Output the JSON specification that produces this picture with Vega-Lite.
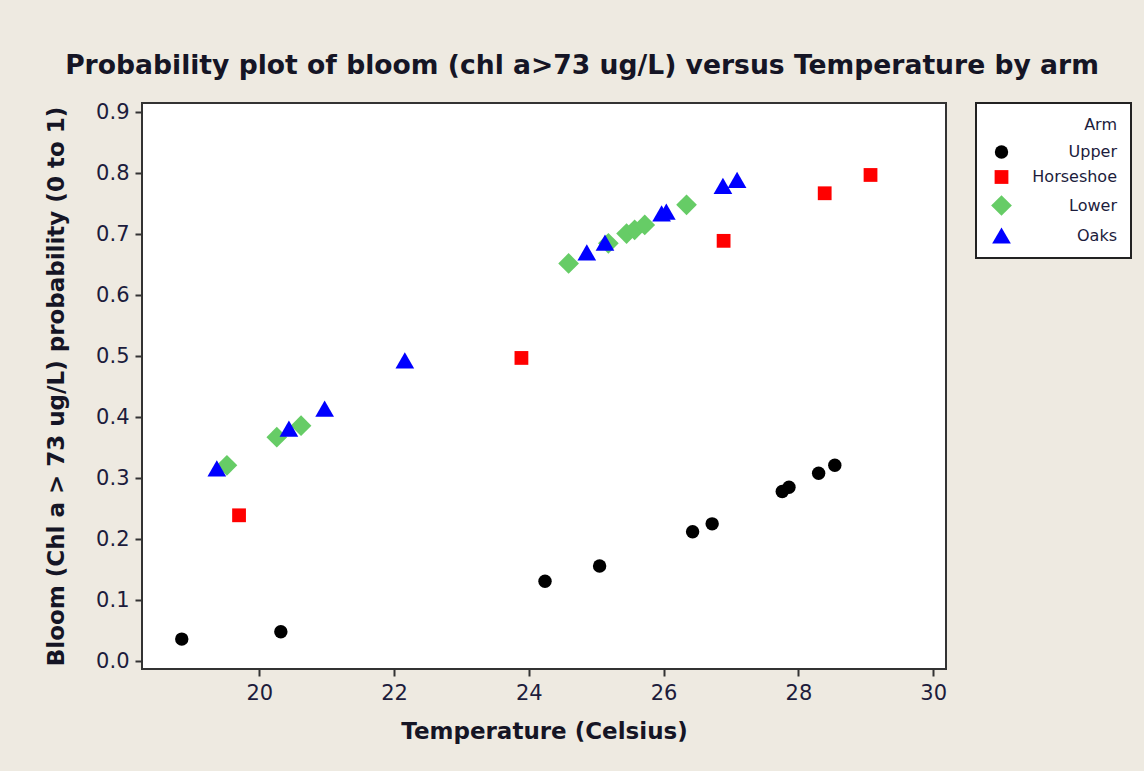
{
  "$schema": "https://vega.github.io/schema/vega-lite/v6.json",
  "width": 804,
  "height": 566,
  "autosize": {"type": "none"},
  "padding": {"left": 142, "top": 103, "right": 198, "bottom": 102},
  "background": "#EEEAE1",
  "title": {
    "text": "Probability plot of bloom (chl a>73 ug/L) versus Temperature by arm",
    "font": "DejaVu Sans",
    "fontSize": 26.6,
    "fontWeight": "bold",
    "color": "#151525",
    "anchor": "middle",
    "frame": "group",
    "dx": 38,
    "offset": 22
  },
  "data": {
    "values": [
      {"Temp": 18.85, "Prob": 0.036, "Arm": "Upper"},
      {"Temp": 20.32, "Prob": 0.048, "Arm": "Upper"},
      {"Temp": 24.24, "Prob": 0.131, "Arm": "Upper"},
      {"Temp": 25.05, "Prob": 0.156, "Arm": "Upper"},
      {"Temp": 26.43, "Prob": 0.212, "Arm": "Upper"},
      {"Temp": 26.72, "Prob": 0.225, "Arm": "Upper"},
      {"Temp": 27.76, "Prob": 0.278, "Arm": "Upper"},
      {"Temp": 27.86, "Prob": 0.285, "Arm": "Upper"},
      {"Temp": 28.30, "Prob": 0.308, "Arm": "Upper"},
      {"Temp": 28.54, "Prob": 0.321, "Arm": "Upper"},
      {"Temp": 19.70, "Prob": 0.239, "Arm": "Horseshoe"},
      {"Temp": 23.89, "Prob": 0.497, "Arm": "Horseshoe"},
      {"Temp": 26.89, "Prob": 0.689, "Arm": "Horseshoe"},
      {"Temp": 28.39, "Prob": 0.767, "Arm": "Horseshoe"},
      {"Temp": 29.07, "Prob": 0.797, "Arm": "Horseshoe"},
      {"Temp": 19.52, "Prob": 0.321, "Arm": "Lower"},
      {"Temp": 20.26, "Prob": 0.367, "Arm": "Lower"},
      {"Temp": 20.62, "Prob": 0.386, "Arm": "Lower"},
      {"Temp": 24.59, "Prob": 0.652, "Arm": "Lower"},
      {"Temp": 25.18, "Prob": 0.685, "Arm": "Lower"},
      {"Temp": 25.45, "Prob": 0.701, "Arm": "Lower"},
      {"Temp": 25.57, "Prob": 0.707, "Arm": "Lower"},
      {"Temp": 25.72, "Prob": 0.715, "Arm": "Lower"},
      {"Temp": 26.34, "Prob": 0.748, "Arm": "Lower"},
      {"Temp": 19.37, "Prob": 0.316, "Arm": "Oaks"},
      {"Temp": 20.44, "Prob": 0.381, "Arm": "Oaks"},
      {"Temp": 20.97, "Prob": 0.414, "Arm": "Oaks"},
      {"Temp": 22.16, "Prob": 0.493, "Arm": "Oaks"},
      {"Temp": 24.86, "Prob": 0.670, "Arm": "Oaks"},
      {"Temp": 25.13, "Prob": 0.686, "Arm": "Oaks"},
      {"Temp": 25.97, "Prob": 0.734, "Arm": "Oaks"},
      {"Temp": 26.04, "Prob": 0.737, "Arm": "Oaks"},
      {"Temp": 26.88, "Prob": 0.779, "Arm": "Oaks"},
      {"Temp": 27.09, "Prob": 0.789, "Arm": "Oaks"}
    ]
  },
  "mark": {"type": "point", "filled": true, "opacity": 1},
  "encoding": {
    "x": {
      "field": "Temp",
      "type": "quantitative",
      "scale": {"domain": [18.26, 30.19], "nice": false, "zero": false},
      "axis": {
        "title": "Temperature (Celsius)",
        "values": [20, 22, 24, 26, 28, 30],
        "format": "d",
        "grid": false
      }
    },
    "y": {
      "field": "Prob",
      "type": "quantitative",
      "scale": {"domain": [-0.013, 0.915], "nice": false, "zero": false},
      "axis": {
        "title": "Bloom (Chl a > 73 ug/L) probability (0 to 1)",
        "values": [0, 0.1, 0.2, 0.3, 0.4, 0.5, 0.6, 0.7, 0.8, 0.9],
        "format": ".1f",
        "grid": false
      }
    },
    "color": {
      "field": "Arm",
      "type": "nominal",
      "scale": {"domain": ["Upper", "Horseshoe", "Lower", "Oaks"], "range": ["#000000", "#FF0000", "#66CC66", "#0000FF"]},
      "legend": {"title": "Arm"}
    },
    "shape": {
      "field": "Arm",
      "type": "nominal",
      "scale": {"domain": ["Upper", "Horseshoe", "Lower", "Oaks"], "range": ["circle", "square", "diamond", "triangle-up"]},
      "legend": {"title": "Arm"}
    },
    "size": {
      "field": "Arm",
      "type": "nominal",
      "scale": {"type": "ordinal", "domain": ["Upper", "Horseshoe", "Lower", "Oaks"], "range": [180, 190, 430, 350]},
      "legend": {"title": "Arm"}
    }
  },
  "config": {
    "view": {"fill": "white", "stroke": "#333333", "strokeWidth": 2},
    "axis": {
      "domain": false,
      "tickColor": "#333333",
      "tickWidth": 2,
      "tickSize": 7,
      "labelFont": "DejaVu Sans",
      "labelFontSize": 21,
      "labelColor": "#1c1c3c",
      "labelPadding": 6,
      "titleFont": "DejaVu Sans",
      "titleFontSize": 23,
      "titleFontWeight": "bold",
      "titleColor": "#151525"
    },
    "axisX": {"titlePadding": 17},
    "axisY": {"titlePadding": 27},
    "legend": {
      "orient": "none",
      "legendX": 834,
      "legendY": 0,
      "padding": 14,
      "fillColor": "white",
      "strokeColor": "#222222",
      "strokeWidth": 2,
      "titleFont": "DejaVu Sans",
      "titleFontSize": 16,
      "titleFontWeight": "normal",
      "titleColor": "#1c1c3c",
      "titleAnchor": "end",
      "titleAlign": "right",
      "titlePadding": 11,
      "labelFont": "DejaVu Sans",
      "labelFontSize": 16,
      "labelColor": "#1c1c3c",
      "labelAlign": "right",
      "labelOffset": 104,
      "rowPadding": 9,
      "symbolSize": 150
    }
  }
}
